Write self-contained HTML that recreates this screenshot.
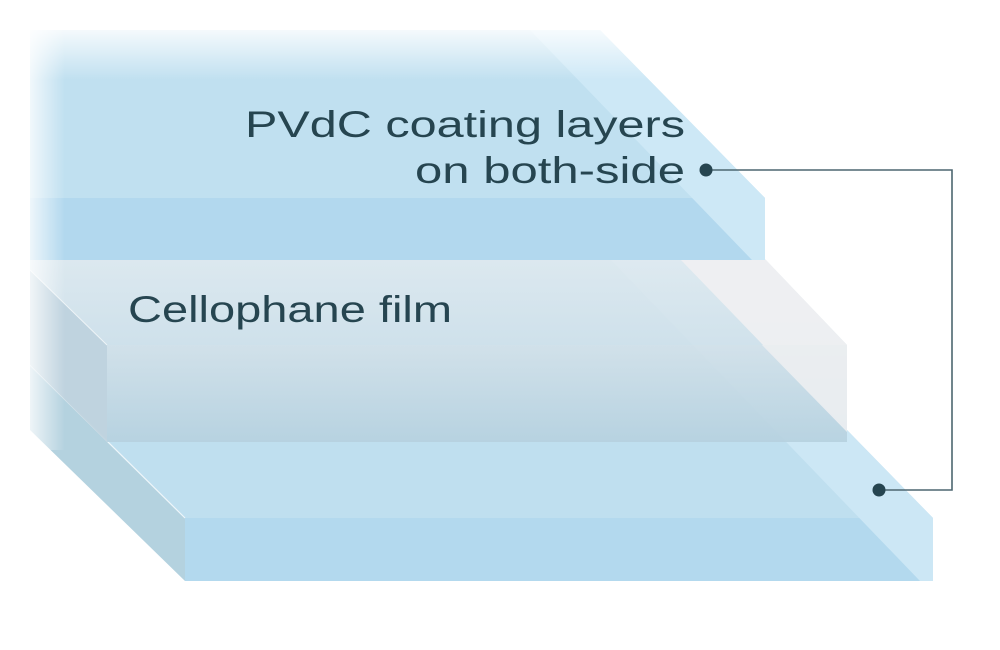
<!DOCTYPE html>
<html><head><meta charset="utf-8"><style>
html,body{margin:0;padding:0;background:#fff;width:1000px;height:650px;overflow:hidden}
svg{display:block}
text{font-family:"Liberation Sans",sans-serif;fill:#264550}
</style></head><body>
<svg width="1000" height="650" viewBox="0 0 1000 650">
<defs>
<linearGradient id="midFront" x1="0" y1="0" x2="0" y2="1">
<stop offset="0" stop-color="#d3e1e9"/><stop offset="1" stop-color="#b6d1df"/>
</linearGradient>
<linearGradient id="midTop" x1="0" y1="0" x2="0" y2="1">
<stop offset="0" stop-color="#e1eaef"/><stop offset="1" stop-color="#d1e1ea"/>
</linearGradient>
<linearGradient id="fadeTop" x1="0" y1="0" x2="0" y2="1">
<stop offset="0" stop-color="#fff" stop-opacity="1"/><stop offset="1" stop-color="#fff" stop-opacity="0"/>
</linearGradient>
<linearGradient id="fadeLeft" x1="0" y1="0" x2="1" y2="0">
<stop offset="0" stop-color="#fff" stop-opacity="1"/><stop offset="1" stop-color="#fff" stop-opacity="0"/>
</linearGradient>
</defs>

<polygon points="30,259 680,259 933,518 185,518 30,365" fill="#bfdfef"/>
<polygon points="30,365 185,518 185,581 30,430" fill="#b4d2df"/>
<rect x="185" y="518" width="748" height="63" fill="#b3d9ee"/>
<polygon points="610,259 680,259 933,518 933,581 920,581" fill="#cce7f5"/>
<line x1="30" y1="365" x2="185" y2="518" stroke="#eef6fa" stroke-width="1.2"/>

<polygon points="30,259 765,259 847,345 107,345 30,270" fill="url(#midTop)" opacity="0.85"/>
<polygon points="680,259 765,259 847,345 763,345" fill="#eeeff1" opacity="0.95"/>
<polygon points="30,270 107,345 107,442 30,365" fill="#bfd2dd" opacity="0.9"/>
<rect x="107" y="345" width="740" height="97" fill="url(#midFront)" opacity="0.9"/>
<polygon points="762,345 847,345 847,432" fill="#eceef1" opacity="0.9"/>
<line x1="30" y1="270" x2="107" y2="345" stroke="#eef4f7" stroke-width="1"/>

<polygon points="30,30 600,30 765,198 30,198" fill="#c0e0f0"/>
<rect x="30" y="198" width="735" height="62" fill="#b2d8ee"/>
<polygon points="530,30 600,30 765,198 765,260 752,260" fill="#cde8f6"/>

<rect x="0" y="20" width="1000" height="60" fill="url(#fadeTop)"/>
<rect x="0" y="0" width="1000" height="30" fill="#fff"/>
<rect x="20" y="20" width="45" height="430" fill="url(#fadeLeft)"/>
<rect x="0" y="0" width="28" height="450" fill="#fff"/>

<text x="245" y="137" font-size="37" textLength="440" lengthAdjust="spacingAndGlyphs">PVdC coating layers</text>
<text x="415" y="183" font-size="37" textLength="270" lengthAdjust="spacingAndGlyphs">on both-side</text>
<text x="128" y="322" font-size="37" textLength="324" lengthAdjust="spacingAndGlyphs">Cellophane film</text>

<polyline points="706,170 952,170 952,490 879,490" fill="none" stroke="#4d6770" stroke-width="1.6"/>
<circle cx="706" cy="170" r="6.5" fill="#264550"/>
<circle cx="879" cy="490" r="6.5" fill="#264550"/>
</svg>
</body></html>
